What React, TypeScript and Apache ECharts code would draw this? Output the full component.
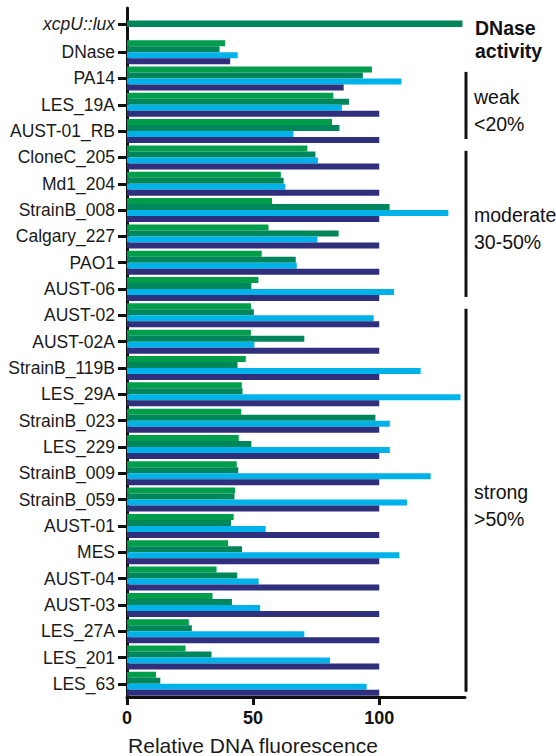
import React, { useEffect, useRef } from "react";
import * as echarts from "echarts";

// Reporter control strain (single bar, plotted on its own row at the top)
const CONTROL_LABEL = "xcpU::lux";
const CONTROL_VALUE = 133;

// Strains, top to bottom
const STRAINS = [
  "DNase",
  "PA14",
  "LES_19A",
  "AUST-01_RB",
  "CloneC_205",
  "Md1_204",
  "StrainB_008",
  "Calgary_227",
  "PAO1",
  "AUST-06",
  "AUST-02",
  "AUST-02A",
  "StrainB_119B",
  "LES_29A",
  "StrainB_023",
  "LES_229",
  "StrainB_009",
  "StrainB_059",
  "AUST-01",
  "MES",
  "AUST-04",
  "AUST-03",
  "LES_27A",
  "LES_201",
  "LES_63",
];

// Relative DNA fluorescence per strain, four measurements each
const SERIES_A = [38.9, 97.1, 81.8, 81.3, 71.5, 61.0, 57.5, 56.1, 53.4, 52.1, 49.2, 49.1, 47.1, 45.5, 45.3, 44.3, 43.5, 42.9, 42.3, 40.1, 35.5, 33.9, 24.5, 23.2, 11.5];
const SERIES_B = [36.7, 93.5, 88.0, 84.2, 74.7, 62.1, 104.1, 83.9, 66.9, 49.3, 50.3, 70.3, 43.8, 45.8, 98.5, 49.3, 44.1, 42.6, 41.2, 45.6, 43.7, 41.6, 25.7, 33.5, 13.2];
const SERIES_C = [43.9, 108.8, 85.2, 66.0, 75.7, 62.8, 127.4, 75.5, 67.3, 105.9, 97.8, 50.5, 116.4, 132.2, 104.2, 104.2, 120.4, 111.0, 55.0, 108.0, 52.2, 52.8, 70.3, 80.5, 95.0];
const SERIES_D = [40.9, 85.9, 100, 100, 100, 100, 100, 100, 100, 100, 100, 100, 100, 100, 100, 100, 100, 100, 100, 100, 100, 100, 100, 100, 100];

const SERIES_NAMES = ["set A", "set B", "set C", "set D"];
const SERIES_COLORS = ["#009d4a", "#00865a", "#00b2ea", "#2f2f7c"];

const X_TICKS = [0, 50, 100];
const X_MAX = 134;

// DNase activity classes, given as category ranges
const GROUPS = [
  { from: "PA14", to: "AUST-01_RB", lines: ["weak", "<20%"] },
  { from: "CloneC_205", to: "AUST-06", lines: ["moderate", "30-50%"] },
  { from: "AUST-02", to: "LES_63", lines: ["strong", ">50%"] },
];

const FONT = "'Liberation Sans', Arial, Helvetica, sans-serif";
const INK = "#111";

export default function App() {
  const ref = useRef<HTMLDivElement>(null);

  useEffect(() => {
    if (!ref.current) return;
    const chart = echarts.init(ref.current, undefined, { renderer: "svg" });

    const axisLine = { show: true, lineStyle: { color: INK, width: 3 } };
    const yTick = {
      show: true,
      alignWithLabel: true,
      length: 9,
      lineStyle: { color: INK, width: 3 },
    };
    const yLabel = { color: "#1a1a1a", fontSize: 17.5, fontFamily: FONT, margin: 12 };

    const values = [SERIES_A, SERIES_B, SERIES_C, SERIES_D];

    chart.setOption({
      animation: false,
      grid: [
        { left: 127, width: 338, top: 8, height: 31.5 },
        { left: 127, width: 338, top: 39, height: 658 },
      ],
      xAxis: [
        { gridIndex: 0, type: "value", min: 0, max: X_MAX, show: false },
        {
          gridIndex: 1,
          type: "value",
          min: 0,
          max: X_MAX,
          interval: 50,
          axisLine,
          axisTick: {
            show: true,
            length: 8,
            lineStyle: { color: INK, width: 3 },
            customValues: X_TICKS,
          },
          axisLabel: {
            customValues: X_TICKS,
            color: INK,
            fontSize: 18,
            fontWeight: "bold",
            fontFamily: FONT,
            margin: 12,
          },
          splitLine: { show: false },
        },
      ],
      yAxis: [
        {
          gridIndex: 0,
          type: "category",
          data: [CONTROL_LABEL],
          axisLine,
          axisTick: yTick,
          axisLabel: { ...yLabel, fontStyle: "italic" },
        },
        {
          gridIndex: 1,
          type: "category",
          inverse: true,
          data: STRAINS,
          axisLine,
          axisTick: yTick,
          axisLabel: yLabel,
        },
      ],
      series: [
        {
          type: "bar",
          name: "control",
          xAxisIndex: 0,
          yAxisIndex: 0,
          data: [CONTROL_VALUE],
          barWidth: 6.5,
          itemStyle: { color: SERIES_COLORS[1] },
        },
        ...values.map((d, i) => ({
          type: "bar",
          name: SERIES_NAMES[i],
          xAxisIndex: 1,
          yAxisIndex: 1,
          data: d,
          barWidth: 6,
          barGap: "0%",
          itemStyle: { color: SERIES_COLORS[i] },
        })),
        {
          type: "custom",
          name: "classes",
          xAxisIndex: 1,
          yAxisIndex: 1,
          clip: false,
          data: GROUPS.map((g) => [X_MAX, STRAINS.indexOf(g.from)]),
          renderItem: (params: any, api: any) => {
            const g = GROUPS[params.dataIndex];
            const i0 = STRAINS.indexOf(g.from);
            const i1 = STRAINS.indexOf(g.to);
            const p0 = api.coord([X_MAX, i0]);
            const p1 = api.coord([X_MAX, i1]);
            const band = Math.abs(api.coord([X_MAX, 1])[1] - api.coord([X_MAX, 0])[1]);
            const x = p0[0] + 1;
            const y1 = p0[1] - band * 0.25;
            const y2 = p1[1] + band * 0.3;
            return {
              type: "group",
              children: [
                {
                  type: "line",
                  shape: { x1: x, y1, x2: x, y2 },
                  style: { stroke: INK, lineWidth: 3 },
                },
                {
                  type: "text",
                  x: x + 8,
                  y: (y1 + y2) / 2 + 5,
                  style: {
                    text: g.lines.join("\n"),
                    fill: INK,
                    fontSize: 19.5,
                    fontFamily: FONT,
                    lineHeight: 27,
                    align: "left",
                    verticalAlign: "middle",
                  },
                },
              ],
            };
          },
        },
      ],
      graphic: [
        {
          type: "text",
          left: 475,
          top: 16,
          style: {
            text: "DNase\nactivity",
            fill: INK,
            fontSize: 19.5,
            fontWeight: "bold",
            fontFamily: FONT,
            lineHeight: 23,
          },
        },
        {
          type: "text",
          x: 253,
          y: 745,
          style: {
            text: "Relative DNA fluorescence",
            fill: "#1a1a1a",
            fontSize: 21,
            fontFamily: FONT,
            align: "center",
            verticalAlign: "middle",
          },
        },
      ],
    });

    return () => chart.dispose();
  }, []);

  return (
    <div
      ref={ref}
      style={{ position: "absolute", left: 0, top: 0, width: 556, height: 756, background: "#fff" }}
    />
  );
}
